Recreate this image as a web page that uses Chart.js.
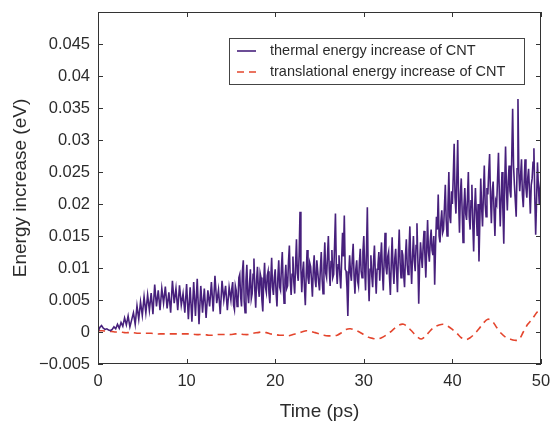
<!DOCTYPE html>
<html><head><meta charset="utf-8">
<script src="https://cdn.jsdelivr.net/npm/chart.js@4"></script>
<style>html,body{margin:0;padding:0;background:#fff}#wrap{width:550px;height:428px;position:relative}</style>
</head><body><div id="wrap"><canvas id="c" width="550" height="428"></canvas></div>
<script>
const seriesNames = ["thermal energy increase of CNT", "translational energy increase of CNT"];
const xTitle = "Time (ps)";
const yTitle = "Energy increase (eV)";
const xTickValues = [0, 10, 20, 30, 40, 50];
const yTickValues = [-0.005, 0, 0.005, 0.01, 0.015, 0.02, 0.025, 0.03, 0.035, 0.04, 0.045];

// thermal energy, 0 - 14.8 ps, one value every 0.2 ps
const thermalEarlyStart = 0, thermalEarlyStep = 0.2;
const thermalEarly = [
  0.0000, 0.0007, 0.0010, 0.0006, 0.0004,
  0.0005, 0.0003, 0.0002, 0.0004, 0.0008,
  0.0005, 0.0012, 0.0006, 0.0015, 0.0009,
  0.0022, 0.0011, 0.0025, 0.0008, 0.0019,
  0.0030, 0.0012, 0.0041, 0.0020, 0.0047,
  0.0026, 0.0055, 0.0030, 0.0058, 0.0034,
  0.0061, 0.0028, 0.0074, 0.0040, 0.0065,
  0.0034, 0.0068, 0.0045, 0.0071, 0.0037,
  0.0062, 0.0030, 0.0080, 0.0045, 0.0068,
  0.0034, 0.0073, 0.0042, 0.0060, 0.0030,
  0.0075, 0.0020, 0.0070, 0.0016, 0.0078,
  0.0025, 0.0083, 0.0012, 0.0072, 0.0030,
  0.0068, 0.0022, 0.0065, 0.0040, 0.0078,
  0.0032, 0.0088, 0.0045, 0.0066, 0.0028,
  0.0080, 0.0050, 0.0072, 0.0034, 0.0070
];

// thermal energy, 15 - 50 ps, one value every 0.1 ps
const thermalLateStart = 15, thermalLateStep = 0.1;
const thermalLate = [
  0.0050, 0.0068, 0.0078, 0.0042, 0.0035, 0.0072, 0.0065, 0.0040, 0.0048, 0.0085,
  0.0090, 0.0055, 0.0040, 0.0095, 0.0112, 0.0048, 0.0030, 0.0080, 0.0105, 0.0060,
  0.0045, 0.0075, 0.0098, 0.0052, 0.0060, 0.0090, 0.0115, 0.0065, 0.0038, 0.0082,
  0.0102, 0.0068, 0.0055, 0.0092, 0.0085, 0.0050, 0.0032, 0.0078, 0.0108, 0.0070,
  0.0062, 0.0088, 0.0095, 0.0060, 0.0045, 0.0082, 0.0116, 0.0070, 0.0058, 0.0085,
  0.0098, 0.0062, 0.0040, 0.0085, 0.0112, 0.0070, 0.0065, 0.0100, 0.0125, 0.0075,
  0.0045, 0.0082, 0.0105, 0.0068, 0.0072, 0.0110, 0.0135, 0.0080, 0.0058, 0.0090,
  0.0118, 0.0078, 0.0060, 0.0105, 0.0145, 0.0092, 0.0080, 0.0120, 0.0188, 0.0098,
  0.0062, 0.0095, 0.0110, 0.0070, 0.0042, 0.0090, 0.0128, 0.0085, 0.0075, 0.0108,
  0.0102, 0.0080, 0.0055, 0.0098, 0.0120, 0.0082, 0.0070, 0.0112, 0.0095, 0.0078,
  0.0065, 0.0100, 0.0125, 0.0082, 0.0060, 0.0105, 0.0140, 0.0092, 0.0085, 0.0118,
  0.0150, 0.0098, 0.0072, 0.0110, 0.0128, 0.0085, 0.0090, 0.0135, 0.0185, 0.0102,
  0.0075, 0.0105, 0.0120, 0.0088, 0.0068, 0.0112, 0.0155, 0.0118, 0.0182, 0.0098,
  0.0095, 0.0070, 0.0025, 0.0090, 0.0120, 0.0092, 0.0080, 0.0115, 0.0138, 0.0088,
  0.0060, 0.0098, 0.0112, 0.0080, 0.0072, 0.0108, 0.0130, 0.0095, 0.0085, 0.0125,
  0.0150, 0.0100, 0.0065, 0.0125, 0.0195, 0.0090, 0.0048, 0.0098, 0.0120, 0.0088,
  0.0070, 0.0110, 0.0135, 0.0092, 0.0060, 0.0098, 0.0105, 0.0125, 0.0080, 0.0115,
  0.0140, 0.0095, 0.0065, 0.0112, 0.0155, 0.0102, 0.0090, 0.0118, 0.0125, 0.0085,
  0.0058, 0.0108, 0.0148, 0.0100, 0.0075, 0.0115, 0.0130, 0.0095, 0.0062, 0.0120,
  0.0160, 0.0108, 0.0085, 0.0128, 0.0120, 0.0090, 0.0070, 0.0118, 0.0145, 0.0105,
  0.0090, 0.0128, 0.0165, 0.0110, 0.0075, 0.0118, 0.0150, 0.0112, 0.0095, 0.0135,
  0.0170, 0.0115, 0.0044, 0.0105, 0.0140, 0.0118, 0.0100, 0.0135, 0.0158, 0.0120,
  0.0085, 0.0130, 0.0175, 0.0125, 0.0110, 0.0142, 0.0160, 0.0128, 0.0120, 0.0150,
  0.0074, 0.0135, 0.0180, 0.0160, 0.0215, 0.0150, 0.0140, 0.0172, 0.0190, 0.0155,
  0.0160, 0.0195, 0.0230, 0.0175, 0.0150, 0.0198, 0.0250, 0.0180, 0.0170, 0.0220,
  0.0200, 0.0245, 0.0294, 0.0210, 0.0185, 0.0240, 0.0300, 0.0205, 0.0155, 0.0215,
  0.0240, 0.0190, 0.0140, 0.0195, 0.0225, 0.0185, 0.0175, 0.0210, 0.0250, 0.0180,
  0.0160, 0.0205, 0.0230, 0.0170, 0.0126, 0.0190, 0.0225, 0.0185, 0.0150, 0.0200,
  0.0110, 0.0175, 0.0240, 0.0195, 0.0165, 0.0215, 0.0260, 0.0200, 0.0180, 0.0225,
  0.0215, 0.0250, 0.0278, 0.0210, 0.0170, 0.0220, 0.0235, 0.0190, 0.0150, 0.0205,
  0.0200, 0.0240, 0.0280, 0.0215, 0.0165, 0.0210, 0.0250, 0.0190, 0.0138, 0.0230,
  0.0290, 0.0225, 0.0190, 0.0235, 0.0260, 0.0220, 0.0210, 0.0275, 0.0349, 0.0260,
  0.0230, 0.0205, 0.0180, 0.0255, 0.0364, 0.0250, 0.0220, 0.0245, 0.0270, 0.0215,
  0.0195, 0.0235, 0.0270, 0.0225, 0.0210, 0.0240, 0.0255, 0.0220, 0.0185, 0.0230,
  0.0240, 0.0265, 0.0287, 0.0210, 0.0152, 0.0205, 0.0265, 0.0230, 0.0200, 0.0225,
  0.0240
];

// translational energy, one value every 0.5 ps from 0 to 50 ps
const translationalStart = 0, translationalStep = 0.5;
const translational = [
  0.0002, 0.0002, 0.0001, 0.0001, 0.0000, 0.0000, -0.0001, -0.0001, -0.0001, -0.0002,
  -0.0002, -0.0002, -0.0002, -0.0003, -0.0003, -0.0003, -0.0003, -0.0003, -0.0003, -0.0003,
  -0.0003, -0.0003, -0.0004, -0.0004, -0.0004, -0.0005, -0.0005, -0.0004, -0.0004, -0.0004,
  -0.0004, -0.0003, -0.0003, -0.0004, -0.0004, -0.0002, -0.0001, 0.0000, -0.0001, -0.0003,
  -0.0004, -0.0005, -0.0005, -0.0006, -0.0004, -0.0002, 0.0000, 0.0002, 0.0001, -0.0001,
  -0.0003, -0.0005, -0.0006, -0.0006, -0.0005, -0.0001, 0.0004, 0.0005, 0.0003, 0.0000,
  -0.0004, -0.0008, -0.0010, -0.0011, -0.0009, -0.0005, 0.0000, 0.0006, 0.0011, 0.0012,
  0.0007, 0.0000, -0.0007, -0.0011, -0.0006, 0.0002, 0.0008, 0.0011, 0.0012, 0.0009,
  0.0004, -0.0002, -0.0009, -0.0012, -0.0009, -0.0003, 0.0005, 0.0014, 0.0020, 0.0017,
  0.0007, -0.0002, -0.0008, -0.0011, -0.0013, -0.0012, 0.0000, 0.0012, 0.0020, 0.0030,
  0.0037
];

const toPoints = (vals, start, step) => vals.map((v, i) => ({ x: +(start + i * step).toFixed(2), y: v }));

const INK = '#2b2b2b';
const FONT = "'Liberation Sans', Arial, Helvetica, sans-serif";

const framePlugin = {
  id: 'frame',
  afterDatasetsDraw(chart) {
    const { ctx, chartArea: a, scales: { x, y } } = chart;
    ctx.save();
    ctx.strokeStyle = '#333';
    ctx.lineWidth = 1;
    ctx.strokeRect(a.left + 0.5, a.top + 0.5, a.right - a.left - 1, a.bottom - a.top - 1);
    const L = 5;
    ctx.beginPath();
    xTickValues.forEach(v => {
      const px = Math.round(x.getPixelForValue(v)) + 0.5;
      ctx.moveTo(px, a.bottom); ctx.lineTo(px, a.bottom - L);
      ctx.moveTo(px, a.top); ctx.lineTo(px, a.top + L);
    });
    yTickValues.forEach(v => {
      const py = Math.round(y.getPixelForValue(v)) + 0.5;
      ctx.moveTo(a.left, py); ctx.lineTo(a.left + L, py);
      ctx.moveTo(a.right, py); ctx.lineTo(a.right - L, py);
    });
    ctx.stroke();

    // legend box inside plot
    const bx = 229, by = 38, bw = 295, bh = 46;
    ctx.fillStyle = '#fff';
    ctx.fillRect(bx, by, bw, bh);
    ctx.strokeStyle = '#444';
    ctx.strokeRect(bx + 0.5, by + 0.5, bw, bh);
    ctx.font = '14.5px ' + FONT;
    ctx.textBaseline = 'middle';
    ctx.fillStyle = INK;
    const rows = [51, 72];
    chart.data.datasets.forEach((ds, i) => {
      ctx.strokeStyle = ds.borderColor;
      ctx.lineWidth = 1.6;
      ctx.setLineDash(ds.borderDash || []);
      ctx.beginPath();
      ctx.moveTo(237, rows[i]); ctx.lineTo(256, rows[i]);
      ctx.stroke();
      ctx.setLineDash([]);
      ctx.fillText(ds.label, 270, rows[i]);
    });
    ctx.restore();
  }
};

new Chart(document.getElementById('c'), {
  type: 'line',
  data: {
    datasets: [
      {
        label: seriesNames[0],
        data: toPoints(thermalEarly, thermalEarlyStart, thermalEarlyStep)
              .concat(toPoints(thermalLate, thermalLateStart, thermalLateStep)),
        borderColor: '#47207c',
        borderWidth: 1.6,
        pointRadius: 0,
        tension: 0,
        fill: false
      },
      {
        label: seriesNames[1],
        data: toPoints(translational, translationalStart, translationalStep),
        borderColor: '#e4452d',
        borderWidth: 1.6,
        borderDash: [7, 5],
        pointRadius: 0,
        tension: 0.3,
        fill: false
      }
    ]
  },
  options: {
    responsive: false,
    animation: false,
    devicePixelRatio: 1,
    layout: { padding: { left: 0, right: 9, top: 12, bottom: 0 } },
    plugins: { legend: { display: false }, tooltip: { enabled: false } },
    scales: {
      x: {
        type: 'linear', min: 0, max: 50,
        grid: { display: false, drawTicks: false },
        border: { display: false },
        afterBuildTicks: s => { s.ticks = xTickValues.map(v => ({ value: v })); },
        ticks: { color: INK, font: { size: 16.5, family: FONT }, padding: 8, maxRotation: 0,
                 callback: v => String(v) },
        title: { display: true, text: xTitle, color: INK, font: { size: 19, family: FONT },
                 padding: { top: 0, bottom: 5 } },
        afterFit: s => { s.height = 64; s.paddingLeft = 0; s.paddingRight = 0; }
      },
      y: {
        type: 'linear', min: -0.005, max: 0.05,
        grid: { display: false, drawTicks: false },
        border: { display: false },
        afterBuildTicks: s => { s.ticks = yTickValues.map(v => ({ value: v })); },
        ticks: { color: INK, font: { size: 16.5, family: FONT }, padding: 8,
                 callback: v => { const n = Number(v.toFixed(3)); return n < 0 ? '\u2212' + String(-n) : String(n); } },
        title: { display: true, text: yTitle, color: INK, font: { size: 19, family: FONT },
                 padding: { top: 9, bottom: 0 } },
        afterFit: s => { s.width = 98; s.paddingTop = 0; s.paddingBottom = 0; }
      }
    }
  },
  plugins: [framePlugin]
});
</script>
</body></html>
